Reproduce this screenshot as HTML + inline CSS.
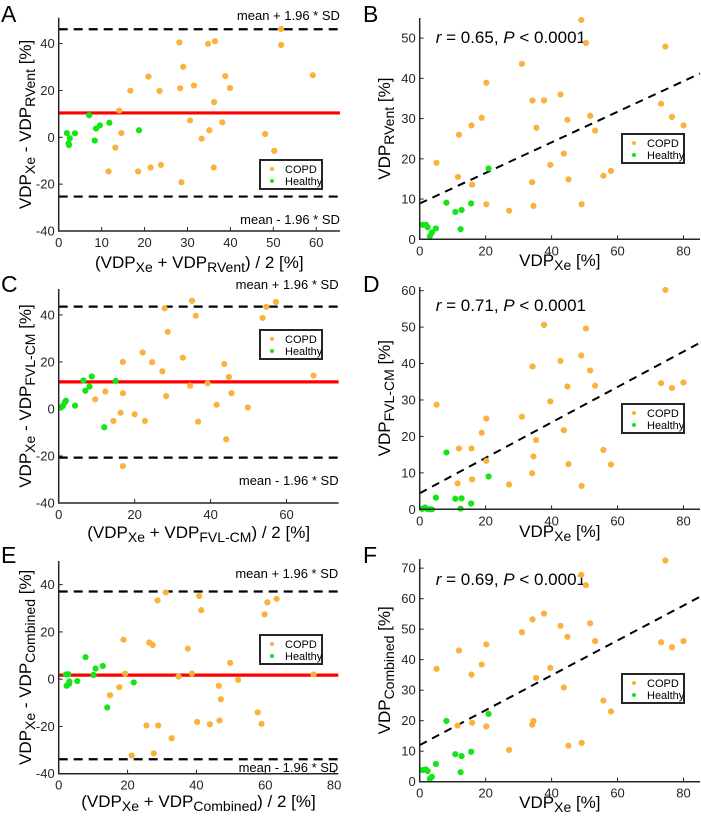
<!DOCTYPE html>
<html><head><meta charset="utf-8"><style>
html,body{margin:0;padding:0;background:#fff;}
svg{display:block;font-family:"Liberation Sans",Arial,sans-serif;}
</style></head><body>
<svg id="fig" width="701" height="817" viewBox="0 0 701 817" xmlns="http://www.w3.org/2000/svg"></svg>
<script>
// ---------- DATA ----------
const aCopdX=[14.1,14.6,13.2,11.6,16.7,18.5,20.9,21.4,23.5,23.8,28.1,28.3,28.6,29.0,30.6,31.5,33.3,34.8,35.1,36.4,36.2,36.1,38.1,38.8,39.9,48.1,50.2,51.8,51.8,59.2];
const aCopdY=[11.4,1.8,-4.4,-14.6,19.9,-14.6,25.9,-12.9,19.8,-11.8,40.5,20.9,-19.2,30.1,7.2,22.1,-0.6,39.9,3.0,41.0,15.0,-12.9,6.4,26.1,21.0,1.4,-5.8,46.2,39.4,26.5];
const aHealthyX=[7.1,1.9,3.8,2.3,2.6,2.4,8.7,9.6,8.4,11.8,18.7];
const aHealthyY=[9.4,1.8,1.7,-2.6,-0.4,-3.3,3.7,5.1,-1.4,6.2,3.0];
const aLimits=[10.4,46.1,-25.3]; // mean, upper, lower

const bCopdX=[5.1,11.6,11.9,15.7,15.9,18.8,20.2,20.2,27.1,31.0,34.2,34.1,34.5,35.4,37.7,39.6,42.7,43.7,44.8,45.1,49.0,49.1,50.4,51.7,53.2,55.7,58.0,73.2,74.5,76.5,80.0];
const bCopdY=[19.0,15.5,26.0,28.3,13.6,30.2,38.9,8.7,7.1,43.6,34.5,14.2,8.3,27.7,34.5,18.5,36.0,21.3,29.7,14.9,54.5,8.7,48.8,30.7,27.0,15.8,17.0,33.7,47.9,30.4,28.3];
const bHealthyX=[0.9,1.9,2.4,3.1,3.7,4.9,8.1,10.8,12.7,12.4,15.6,20.9];
const bHealthyY=[3.6,3.6,3.0,0.8,1.7,2.7,9.1,6.8,7.3,2.5,8.9,17.6];
const bFit=[8.9,0.38]; // intercept, slope

const cCopdX=[9.6,12.3,14.4,16.9,16.9,16.3,16.9,20.0,22.1,22.7,24.6,27.3,27.9,28.3,28.7,32.7,34.6,35.1,36.1,36.7,39.2,41.6,43.6,44.1,44.8,45.5,49.8,53.7,54.7,57.2,67.1];
const cCopdY=[4.1,7.4,-5.1,20.0,6.7,-1.6,-24.3,-2.3,24.0,-5.1,19.9,16.0,42.8,5.4,32.8,21.8,9.9,46.0,39.6,-5.4,10.9,1.8,19.1,-12.9,13.6,6.7,0.6,38.7,43.4,45.5,14.2];
const cHealthyX=[0.6,1.1,1.6,1.9,4.3,6.5,7.0,8.1,8.7,12.0,15.0];
const cHealthyY=[0.6,1.3,2.7,3.5,1.4,12.1,7.7,9.5,13.8,-7.8,11.9];
const cLimits=[11.5,43.5,-20.7];

const dCopdX=[5.1,11.5,11.9,15.7,15.9,18.8,20.2,20.2,27.1,31.0,34.1,34.2,34.5,35.3,37.7,39.6,42.7,43.7,44.8,45.1,49.0,49.1,50.4,51.7,53.2,55.7,58.0,73.2,74.5,76.5,80.0];
const dCopdY=[28.7,7.1,16.7,16.7,8.2,21.0,24.9,13.3,6.8,25.4,9.9,39.2,14.5,19.0,50.6,29.6,40.7,21.7,33.7,12.4,42.2,6.4,49.6,38.1,33.9,16.3,12.3,34.6,60.2,33.3,34.8];
const dHealthyX=[0.7,1.6,2.3,3.1,3.7,4.9,8.1,10.8,12.7,12.4,15.6,20.9];
const dHealthyY=[0.1,0.5,0.1,0.0,0.0,3.2,15.6,2.9,3.0,0.2,1.6,9.0];
const dFit=[4.4,0.486];

const eCopdX=[14.9,17.6,18.8,19.3,21.2,25.5,26.3,27.3,27.6,28.7,28.9,31.1,32.8,34.8,37.5,38.7,40.2,40.8,41.4,43.9,46.5,46.7,47.1,49.8,52.1,57.8,58.9,59.8,60.6,63.3,74.0];
const eCopdY=[-6.8,-3.4,16.7,2.3,-32.3,-19.6,15.5,14.5,-31.4,33.3,-19.6,36.7,-25.0,1.1,12.9,2.4,-18.1,35.2,29.2,-19.1,-2.8,-17.5,-8.5,6.9,-0.3,-14.1,-18.9,27.4,32.5,34.0,2.0];
const eHealthyX=[2.1,2.8,2.3,3.0,3.1,5.4,7.8,10.1,10.7,12.8,14.1,21.8];
const eHealthyY=[2.0,2.1,-2.8,-2.0,-1.0,-0.8,9.3,1.8,4.5,5.6,-12.0,-1.4];
const eLimits=[1.7,37.1,-33.9];

const fCopdX=[5.1,11.5,11.9,15.7,15.9,18.8,20.2,20.2,27.1,31.0,34.1,34.2,34.5,35.3,37.7,39.6,42.7,43.7,44.8,45.1,49.0,49.1,50.4,51.7,53.2,55.7,58.0,73.2,74.5,76.5,80.0];
const fCopdY=[37.0,18.4,43.0,35.1,19.3,38.4,45.0,18.1,10.4,49.0,18.7,53.2,19.9,34.0,55.1,37.3,51.1,30.9,47.5,11.8,67.8,12.7,64.4,51.9,46.1,26.6,23.0,45.7,72.5,44.1,46.1];
const fHealthyX=[0.9,1.9,2.4,3.1,3.7,4.9,8.1,10.8,12.7,12.4,15.6,20.9];
const fHealthyY=[3.8,4.0,3.5,1.0,1.6,5.8,19.9,9.0,8.4,3.1,9.8,22.2];
const fFit=[12.0,0.572];

const baTicksX=[0,10,20,30,40,50,60];
const baTicksY=[-40,-20,0,20,40];
const cTicksX=[0,20,40,60];
const eTicksX=[0,20,40,60,80];
const scTicksX=[0,20,40,60,80];
const bTicksY=[0,10,20,30,40,50];
const dTicksY=[0,10,20,30,40,50,60];
const fTicksY=[0,10,20,30,40,50,60,70];

// ---------- RENDER ----------
const NS="http://www.w3.org/2000/svg";
const svg=document.getElementById('fig');
const ORANGE="#fbb13c", GREEN="#14e514", AX="#262626";
function el(tag,attrs,parent){const e=document.createElementNS(NS,tag);for(const k in attrs)e.setAttribute(k,attrs[k]);(parent||svg).appendChild(e);return e;}
function richText(parts,attrs,parent){
  const t=el('text',attrs,parent);
  parts.forEach(p=>{
    const s=document.createElementNS(NS,'tspan');
    if(p.sub){s.setAttribute('dy','4');s.setAttribute('font-size','14');}
    if(p.after){s.setAttribute('dy','-4');}
    s.textContent=p.t;t.appendChild(s);
  });
  return t;
}
function seg(str){ // "VDP_{Xe} [%]" -> parts
  const parts=[];const re=/_\{([^}]*)\}/g;let last=0,m,after=false;
  while((m=re.exec(str))){if(m.index>last)parts.push({t:str.slice(last,m.index),after:after});parts.push({t:m[1],sub:true});after=true;last=re.lastIndex;}
  if(last<str.length)parts.push({t:str.slice(last),after:after});
  return parts;
}
function panel(cfg){
  const g=el('g',{});
  
  
  const sx=v=>cfg.L+(v-cfg.x0)/(cfg.x1-cfg.x0)*(cfg.R-cfg.L);
  const sy=v=>cfg.B-(v-cfg.y0)/(cfg.y1-cfg.y0)*(cfg.B-cfg.T);
  // letter
  const lt=el('text',{x:cfg.letterX,y:cfg.letterY,'font-size':23,fill:'#000'},g);
  lt.textContent=cfg.letter;
  
  
  // ticks
  cfg.xt.forEach(v=>{
    const x=sx(v);
    el('line',{x1:x,x2:x,y1:cfg.B,y2:cfg.B-4,stroke:AX,'stroke-width':1},g);
    const t=el('text',{x:x,y:cfg.B+16,'font-size':13,fill:AX,'text-anchor':'middle'},g);
    t.textContent=v;
    
    
  });
  cfg.yt.forEach(v=>{
    const y=sy(v);
    el('line',{x1:cfg.L,x2:cfg.L+4,y1:y,y2:y,stroke:AX,'stroke-width':1},g);
    const t=el('text',{x:cfg.L-4,y:y+4.5,'font-size':13,fill:AX,'text-anchor':'end'},g);
    t.textContent=v;
    
    
  });
  // reference lines
  if(cfg.limits){
    const m=el('line',{x1:sx(cfg.x0),x2:sx(cfg.x1),y1:sy(cfg.limits[0]),y2:sy(cfg.limits[0]),stroke:'#ff0000','stroke-width':3.2},g);
    
    
    [1,2].forEach(i=>{
      const l=el('line',{x1:sx(cfg.x0),x2:sx(cfg.x1),y1:sy(cfg.limits[i]),y2:sy(cfg.limits[i]),stroke:'#000','stroke-width':2.2,'stroke-dasharray':'9,6'},g);
      
      
    });
    const u=el('text',{x:cfg.R,y:cfg.upText,'font-size':13,fill:'#000','text-anchor':'end'},g);
    u.textContent='mean + 1.96 * SD';
    
    
    const d=el('text',{x:cfg.R,y:cfg.loText,'font-size':13,fill:'#000','text-anchor':'end'},g);
    d.textContent='mean - 1.96 * SD';
    
    
  }
  if(cfg.fit){
    const l=el('line',{x1:sx(cfg.x0),x2:sx(cfg.x1),y1:sy(cfg.fit[0]+cfg.fit[1]*cfg.x0),y2:sy(cfg.fit[0]+cfg.fit[1]*cfg.x1),stroke:'#000','stroke-width':2,'stroke-dasharray':'8,6'},g);
    
    
    const t=el('text',{x:cfg.L+16,y:cfg.rY,'font-size':17,fill:'#000'},g);
    t.innerHTML='<tspan font-style="italic">r</tspan> = '+cfg.r+', <tspan font-style="italic">P</tspan> &lt; 0.0001';
    
    
  }
  // points
  cfg.cx.forEach((v,i)=>{
    const c=el('circle',{cx:sx(v),cy:sy(cfg.cy[i]),r:3.1,fill:ORANGE},g);
    
    
  });
  cfg.hx.forEach((v,i)=>{
    const c=el('circle',{cx:sx(v),cy:sy(cfg.hy[i]),r:3.1,fill:GREEN},g);
    
    
  });
  // axes
  const ax=el('path',{d:`M${cfg.L},${cfg.T}V${cfg.B}H${cfg.R}`,fill:'none',stroke:AX,'stroke-width':1.5},g);
  
  
  // titles
  const xt=richText(seg(cfg.xTitle),{x:(cfg.L+cfg.R)/2,y:cfg.xTitleY,'font-size':17,fill:'#000','text-anchor':'middle'},g);
  
  
  const yc=(cfg.T+cfg.B)/2;
  const yt=richText(seg(cfg.yTitle),{x:cfg.yTitleX,y:yc,'font-size':17,fill:'#000','text-anchor':'middle',transform:`rotate(-90 ${cfg.yTitleX} ${yc})`},g);
  
  
  // legend
  const lg=el('g',{},g);
  
  
  const [lx,ly]=cfg.leg;
  el('rect',{x:lx,y:ly,width:62,height:29,fill:'#fff',stroke:AX,'stroke-width':2},lg);
  el('circle',{cx:lx+12,cy:ly+9,r:2,fill:ORANGE},lg);
  el('circle',{cx:lx+12,cy:ly+21,r:2,fill:GREEN},lg);
  const t1=el('text',{x:lx+25,y:ly+13,'font-size':11,fill:'#000'},lg);t1.textContent='COPD';
  
  
  const t2=el('text',{x:lx+25,y:ly+25,'font-size':11,fill:'#000'},lg);t2.textContent='Healthy';
  
  
}
panel({name:'panel-a-bland-altman-rvent',letter:'A',letterX:1,letterY:22,L:58.7,R:339.9,T:17.8,B:231,x0:0,x1:65.5,y0:-40,y1:51,
  xt:baTicksX,yt:baTicksY,limits:aLimits,upText:20,loText:224,cx:aCopdX,cy:aCopdY,hx:aHealthyX,hy:aHealthyY,
  xTitle:'(VDP_{Xe} + VDP_{RVent}) / 2 [%]',xTitleY:268,yTitle:'VDP_{Xe} - VDP_{RVent} [%]',yTitleX:31,leg:[260,160]});
panel({name:'panel-b-correlation-rvent',letter:'B',letterX:363,letterY:22,L:419.7,R:700,T:18,B:239.3,x0:0,x1:85,y0:0,y1:55,
  xt:scTicksX,yt:bTicksY,fit:bFit,r:'0.65',rY:43,cx:bCopdX,cy:bCopdY,hx:bHealthyX,hy:bHealthyY,
  xTitle:'VDP_{Xe} [%]',xTitleY:266,yTitle:'VDP_{RVent} [%]',yTitleX:390,leg:[622,134]});
panel({name:'panel-c-bland-altman-fvlcm',letter:'C',letterX:1,letterY:292,L:58.7,R:338.6,T:289,B:503,x0:0,x1:73.7,y0:-40,y1:51,
  xt:cTicksX,yt:baTicksY,limits:cLimits,upText:289,loText:485,cx:cCopdX,cy:cCopdY,hx:cHealthyX,hy:cHealthyY,
  xTitle:'(VDP_{Xe} + VDP_{FVL-CM}) / 2 [%]',xTitleY:538,yTitle:'VDP_{Xe} - VDP_{FVL-CM} [%]',yTitleX:31,leg:[260,330]});
panel({name:'panel-d-correlation-fvlcm',letter:'D',letterX:363,letterY:292,L:419.7,R:700,T:287,B:509.3,x0:0,x1:85,y0:0,y1:61,
  xt:scTicksX,yt:dTicksY,fit:dFit,r:'0.71',rY:311,cx:dCopdX,cy:dCopdY,hx:dHealthyX,hy:dHealthyY,
  xTitle:'VDP_{Xe} [%]',xTitleY:537,yTitle:'VDP_{FVL-CM} [%]',yTitleX:390,leg:[622,404]});
panel({name:'panel-e-bland-altman-combined',letter:'E',letterX:1,letterY:563,L:58.7,R:338.3,T:561,B:773.7,x0:0,x1:81.2,y0:-40,y1:50,
  xt:eTicksX,yt:baTicksY,limits:eLimits,upText:578,loText:772,cx:eCopdX,cy:eCopdY,hx:eHealthyX,hy:eHealthyY,
  xTitle:'(VDP_{Xe} + VDP_{Combined}) / 2 [%]',xTitleY:807,yTitle:'VDP_{Xe} - VDP_{Combined} [%]',yTitleX:31,leg:[260,635]});
panel({name:'panel-f-correlation-combined',letter:'F',letterX:363,letterY:563,L:419.7,R:700,T:559,B:781.7,x0:0,x1:85,y0:0,y1:73,
  xt:scTicksX,yt:fTicksY,fit:fFit,r:'0.69',rY:585,cx:fCopdX,cy:fCopdY,hx:fHealthyX,hy:fHealthyY,
  xTitle:'VDP_{Xe} [%]',xTitleY:808,yTitle:'VDP_{Combined} [%]',yTitleX:390,leg:[622,674]});
</script>
</body></html>
